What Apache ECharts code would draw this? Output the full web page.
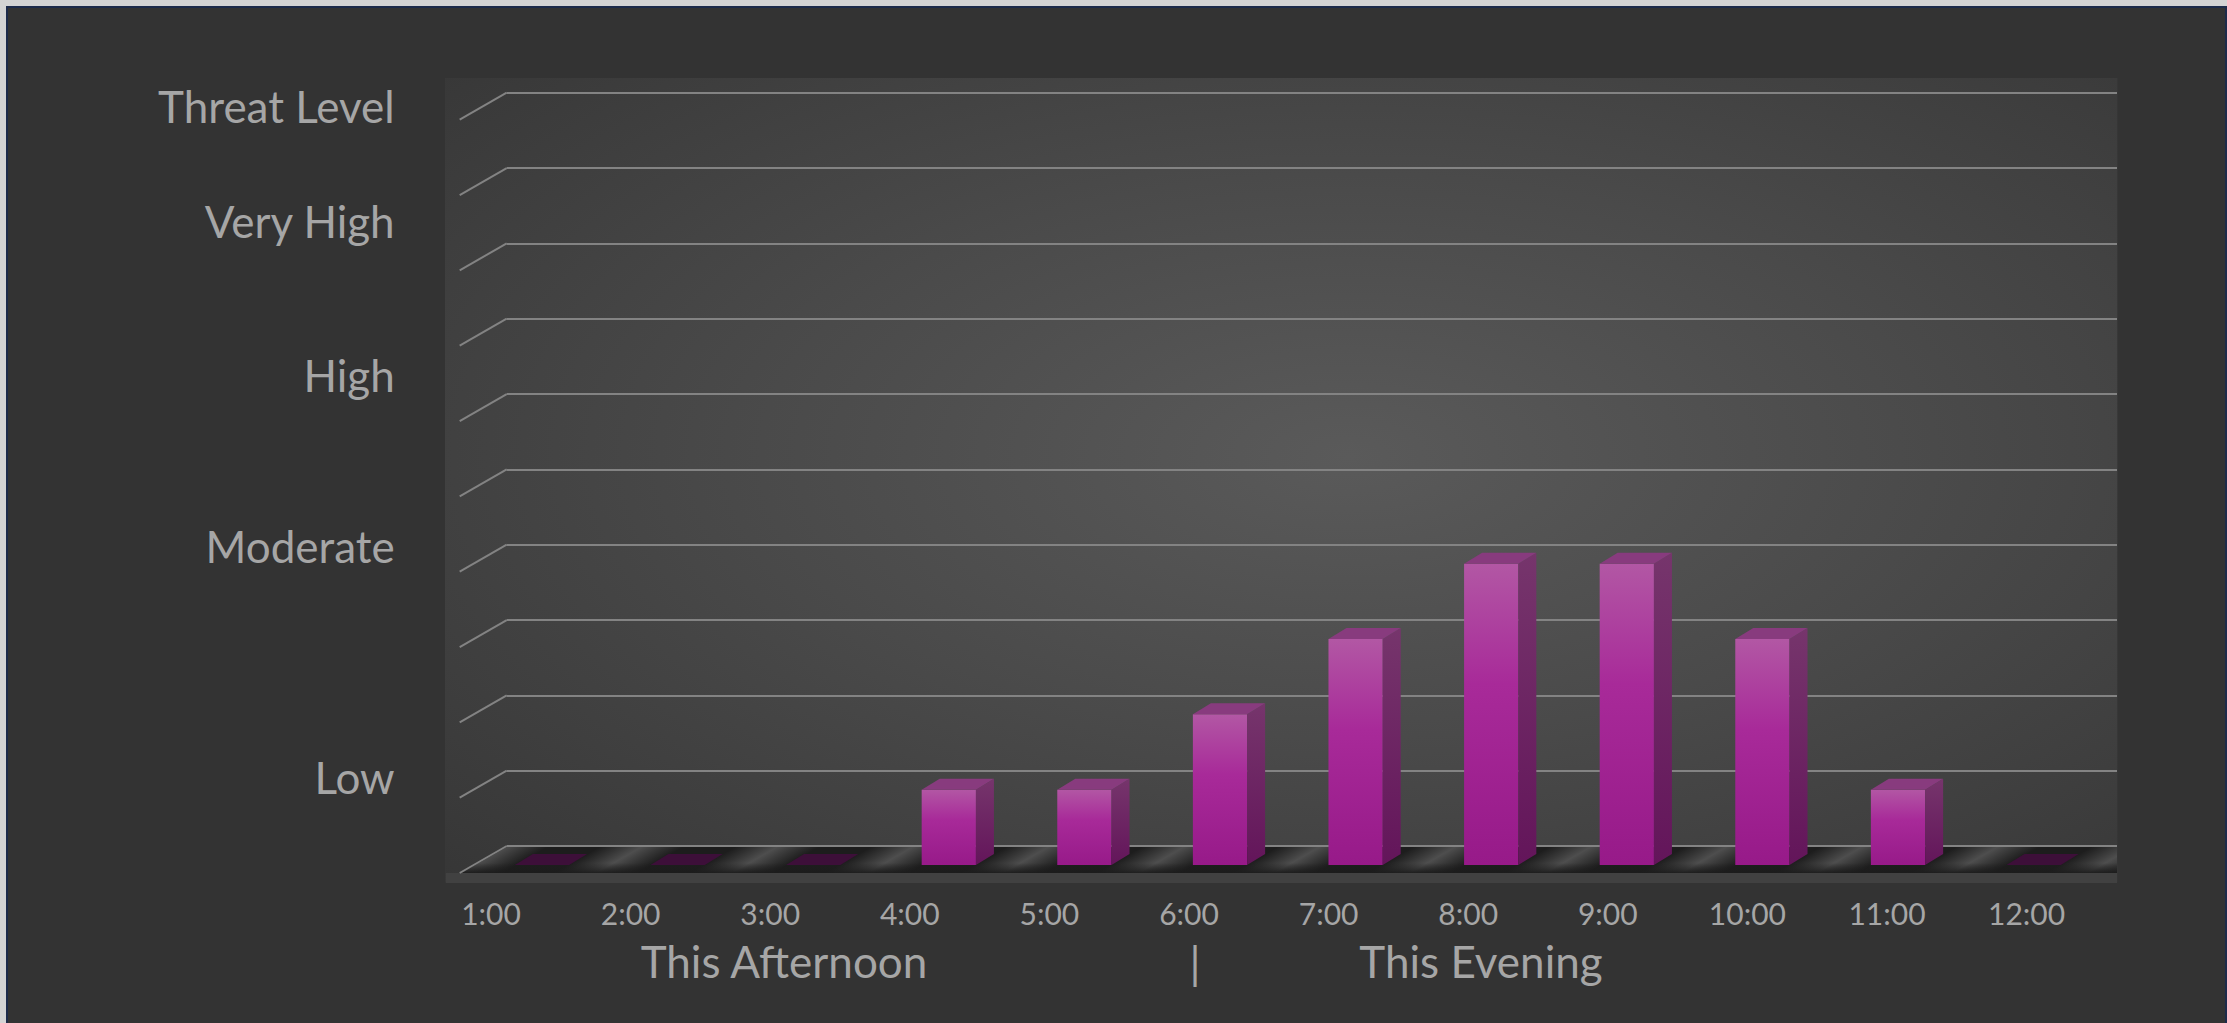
<!DOCTYPE html>
<html><head><meta charset="utf-8">
<script src="https://cdn.jsdelivr.net/npm/echarts@6/dist/echarts.min.js"></script>
<style>
html,body{margin:0;padding:0;width:2227px;height:1023px;overflow:hidden;background:#d4d4d4;}
#frame{position:absolute;left:6px;top:6px;width:2217px;height:1030px;background:#333333;border:2px solid #1d2b4a;}
#chart{position:absolute;left:0;top:0;width:2227px;height:1023px;}
</style></head><body>
<div id="frame"></div><div id="chart"></div>
<script>
// ---- data ----
const hours = ['1:00','2:00','3:00','4:00','5:00','6:00','7:00','8:00','9:00','10:00','11:00','12:00'];
const threatValues = [0,0,0,1,1,2,3,4,4,3,1,0];
const levelNames = ['Low','Moderate','High','Very High','Threat Level'];
const levelPositions = [0.9,3.97,6.24,8.28,9.81];
const periodLabels = ['This Afternoon','|','This Evening'];
const yMax = 10;

// ---- style constants ----
const TEXT = '#a6a6a6';
const GRIDC = '#838383';
const FONT = 'Lato';
const DEPTH_X = -47, DEPTH_Y = 27;   // wall/floor depth
const BAR_DX = 18, BAR_DY = -11;     // bar side depth

const chart = echarts.init(document.getElementById('chart'), null, {renderer:'svg', width:2227, height:1023});

// floor geometry shared between series (filled by floorRender)
const floorGeo = {xl:0, xr:0, yb:0, yf:0};

function clipPoly(pts, inside, intersect){
  const out = [];
  for (let i = 0; i < pts.length; i++) {
    const a = pts[i], b = pts[(i+1)%pts.length];
    const ia = inside(a), ib = inside(b);
    if (ia) out.push(a);
    if (ia !== ib) out.push(intersect(a,b));
  }
  return out;
}

function floorRender(params, api){
  const cs = params.coordSys;
  const yb = api.coord([0,0])[1];
  const xl = cs.x, xr = cs.x + cs.width;
  const yf = yb + DEPTH_Y;
  floorGeo.xl = xl; floorGeo.xr = xr; floorGeo.yb = yb; floorGeo.yf = yf;
  const children = [];
  children.push({type:'rect', shape:{x:xl+DEPTH_X-14, y:yf, width:xr-(xl+DEPTH_X-14), height:10}, style:{fill:'#414141'}});
  children.push({type:'polygon', shape:{points:[[xl,yb+1],[xr,yb+1],[xr,yf],[xl+DEPTH_X,yf]]}, style:{fill:'#1d1d1d'}});
  return {type:'group', children};
}

function stripeRender(params, api){
  const cs = params.coordSys;
  const band = api.size([1,0])[0];
  const {xl, xr, yb, yf} = floorGeo;
  const yt = yb + 1;
  const ym = (yt + yf)/2;
  const slope = DEPTH_X/DEPTH_Y; // dx per dy
  const children = [];
  const nlen = Math.sqrt(DEPTH_X*DEPTH_X + DEPTH_Y*DEPTH_Y);
  const nx = DEPTH_Y/nlen, ny = -DEPTH_X/nlen;
  const hw = 42;
  const edgeX = y => xl + (y - yt)*slope; // floor left edge
  for (let k = 0; k <= hours.length; k++) {
    const cm = cs.x + k*band + 9;           // stripe centre at mid depth
    const ct = cm + (yt - ym)*slope;        // at back
    const cf = cm + (yf - ym)*slope;        // at front
    let pts = [[ct-hw,yt],[ct+hw,yt],[cf+hw,yf],[cf-hw,yf]];
    pts = clipPoly(pts, p => p[0] <= xr, (a,b) => { const t=(xr-a[0])/(b[0]-a[0]); return [xr, a[1]+t*(b[1]-a[1])]; });
    pts = clipPoly(pts, p => p[0] >= edgeX(p[1]), (a,b) => {
      const fa = a[0]-edgeX(a[1]), fb = b[0]-edgeX(b[1]); const t = fa/(fa-fb);
      return [a[0]+t*(b[0]-a[0]), a[1]+t*(b[1]-a[1])]; });
    if (pts.length < 3) continue;
    const d = hw*nx;
    children.push({type:'polygon', shape:{points:pts}, style:{
      fill:new echarts.graphic.LinearGradient(cm-nx*d, ym-ny*d, cm+nx*d, ym+ny*d,
        [{offset:0,color:'rgba(74,74,74,0)'},{offset:0.5,color:'rgba(78,78,78,1)'},{offset:1,color:'rgba(74,74,74,0)'}], true)
    }});
  }
  // darker front edge of the floor
  const y0 = yf - 10;
  children.push({type:'polygon', shape:{points:[[edgeX(y0),y0],[xr,y0],[xr,yf],[edgeX(yf),yf]]}, style:{
    fill:new echarts.graphic.LinearGradient(0,0,0,1,[{offset:0,color:'rgba(28,28,28,0)'},{offset:1,color:'rgba(28,28,28,0.95)'}])}});
  return {type:'group', children};
}

function wallRender(params, api){
  const xl = params.coordSys.x;
  const children = [];
  for (let v = 0; v <= yMax; v++) {
    const y = api.coord([0,v])[1];
    children.push({type:'line', shape:{x1:xl, y1:y, x2:xl+DEPTH_X, y2:y+DEPTH_Y}, style:{stroke:GRIDC, lineWidth:2}});
  }
  return {type:'group', children};
}

function barRender(params, api){
  const i = api.value(0), v = api.value(1);
  const top = api.coord([i, v]);
  const base = api.coord([i, 0]);
  const w = api.size([1,0])[0]*0.4;
  const x0 = top[0]-w/2, x1 = top[0]+w/2;
  const yt = top[1], yb = base[1];
  const children = [];
  if (v <= 0) {
    children.push({type:'polygon', shape:{points:[[x0,yb],[x1,yb],[x1+BAR_DX,yb+BAR_DY],[x0+BAR_DX,yb+BAR_DY]]}, style:{fill:'#3d0f39'}});
    return {type:'group', children};
  }
  children.push({type:'rect', shape:{x:x0, y:yt, width:w, height:yb-yt}, style:{
    fill:new echarts.graphic.LinearGradient(0,0,0,1,[{offset:0,color:'#b257a4'},{offset:0.4,color:'#a82a99'},{offset:1,color:'#971a89'}])}});
  children.push({type:'polygon', shape:{points:[[x1,yb],[x1,yt],[x1+BAR_DX,yt+BAR_DY],[x1+BAR_DX,yb+BAR_DY]]}, style:{
    fill:new echarts.graphic.LinearGradient(0,0,0,1,[{offset:0,color:'#76356c'},{offset:1,color:'#63155a'}])}});
  children.push({type:'polygon', shape:{points:[[x0,yt],[x1,yt],[x1+BAR_DX,yt+BAR_DY],[x0+BAR_DX,yt+BAR_DY]]}, style:{fill:'#883b7e'}});
  return {type:'group', children};
}

function levelRender(params, api){
  const y = api.coord([0, api.value(1)])[1];
  return {type:'text', style:{text:levelNames[params.dataIndex], x:params.coordSys.x-112, y:y-1,
    align:'right', verticalAlign:'middle', fill:TEXT, font:'44px ' + FONT}};
}

const option = {
  animation:false,
  backgroundColor:'transparent',
  grid:[
    {left:506.7, right:110, top:92.7, bottom:177, outerBoundsMode:'none'},
    {left:474.2, right:125.6, top:111.7, bottom:158, outerBoundsMode:'none'},
    {left:421.2, right:130.6, top:850, bottom:143, outerBoundsMode:'none'}
  ],
  xAxis:[
    {gridIndex:0, type:'category', data:hours, show:false},
    {gridIndex:1, type:'category', data:hours, show:false},
    {gridIndex:2, type:'category', data:hours, axisLine:{show:false}, axisTick:{show:false},
     axisLabel:{color:TEXT, fontSize:30, fontFamily:FONT, margin:33, verticalAlign:'middle'}}
  ],
  yAxis:[
    {gridIndex:0, type:'value', min:0, max:yMax, interval:1, axisLine:{show:false}, axisTick:{show:false},
     axisLabel:{show:false}, splitLine:{show:true, lineStyle:{color:GRIDC, width:2}}},
    {gridIndex:1, type:'value', min:0, max:yMax, interval:1, show:false, splitLine:{show:false}},
    {gridIndex:2, type:'value', show:false, splitLine:{show:false}}
  ],
  graphic:[
    {type:'rect', z:-10, x:445, y:78, scaleX:1672/804, scaleY:1, shape:{x:0,y:0,width:804,height:804},
     style:{fill:new echarts.graphic.RadialGradient(0.54,0.47,0.78,[{offset:0,color:'#5a5a5a'},{offset:0.45,color:'#4a4a4a'},{offset:1,color:'#353535'}])}},
    {type:'text', x:784, y:961, style:{text:periodLabels[0], fill:TEXT, font:'44px '+FONT, align:'center', verticalAlign:'middle'}},
    {type:'text', x:1195, y:962, style:{text:periodLabels[1], fill:TEXT, font:'44px '+FONT, align:'center', verticalAlign:'middle'}},
    {type:'text', x:1481, y:961, style:{text:periodLabels[2], fill:TEXT, font:'44px '+FONT, align:'center', verticalAlign:'middle'}}
  ],
  series:[
    {type:'custom', name:'floor', xAxisIndex:0, yAxisIndex:0, data:[[0,0]], renderItem:floorRender, silent:true, z:2},
    {type:'custom', name:'floorShade', xAxisIndex:1, yAxisIndex:1, data:[[0,0]], renderItem:stripeRender, silent:true, z:2},
    {type:'custom', name:'wall', xAxisIndex:0, yAxisIndex:0, data:[[0,0]], renderItem:wallRender, silent:true, z:2},
    {type:'custom', name:'Threat', xAxisIndex:1, yAxisIndex:1, data:threatValues.map((v,i)=>[i,v]), renderItem:barRender, z:3},
    {type:'custom', name:'levels', xAxisIndex:0, yAxisIndex:0, data:levelPositions.map(p=>[0,p]), renderItem:levelRender, silent:true, z:3}
  ]
};
chart.setOption(option);
</script>
</body></html>
